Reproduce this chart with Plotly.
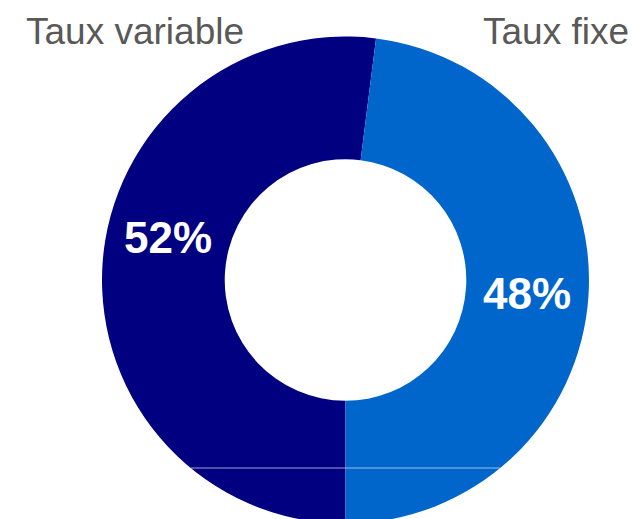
import plotly.graph_objects as go

# Répartition de la dette par type de taux
labels = ["Taux variable", "Taux fixe"]
values = [52, 48]
colors = ["#000080", "#0066CC"]

W, H = 635, 519          # visible page size
FIG_H = 524              # figure is a touch taller: the ring runs off the bottom edge
# Pie placement in pixels (center and radius), measured from the top-left
cx, cy, r = 345.5, 280.0, 243.5

fig = go.Figure(
    go.Pie(
        labels=labels,
        values=values,
        sort=False,
        direction="clockwise",
        rotation=180,
        hole=0.496,
        marker=dict(colors=colors, line=dict(width=0)),
        textinfo="none",
        hoverinfo="label+percent",
        domain=dict(
            x=[(cx - r) / W, (cx + r) / W],
            y=[max(0.0, (FIG_H - cy - r) / FIG_H), (FIG_H - cy + r) / FIG_H],
        ),
        showlegend=False,
    )
)

total = sum(values)
pct = [f"{round(100 * v / total)}%" for v in values]

FONT = "Liberation Sans, Arial, sans-serif"

# Percentage labels inside the ring
label_pos = [(168, 238), (527, 293)]
for t, (px, py) in zip(pct, label_pos):
    fig.add_annotation(
        x=px / W, y=1 - py / FIG_H, xref="paper", yref="paper",
        text=f"<b>{t}</b>", showarrow=False,
        font=dict(family=FONT, size=44, color="white"),
        xanchor="center", yanchor="middle",
    )

# Category names at the top corners
fig.add_annotation(
    x=24 / W, y=1 - 31 / FIG_H, xref="paper", yref="paper",
    text=labels[0], showarrow=False, xanchor="left", yanchor="middle",
    font=dict(family=FONT, size=37, color="#595959"),
)
fig.add_annotation(
    x=631 / W, y=1 - 31 / FIG_H, xref="paper", yref="paper",
    text=labels[1], showarrow=False, xanchor="right", yanchor="middle",
    font=dict(family=FONT, size=37, color="#595959"),
)

# Thin light seam across the lower part of the ring
ys = 468.0
half = (r ** 2 - (ys - cy) ** 2) ** 0.5
fig.add_shape(
    type="line", xref="paper", yref="paper",
    x0=(cx - half) / W, x1=(cx + half) / W, y0=1 - ys / FIG_H, y1=1 - ys / FIG_H,
    line=dict(color="rgba(215,215,225,0.75)", width=1),
)

fig.update_layout(
    width=W, height=FIG_H,
    margin=dict(l=0, r=0, t=0, b=0),
    paper_bgcolor="white", plot_bgcolor="white",
)

# Keep the page from scrolling so the overflow is simply cut off
fig.write_html(
    "out.html",
    post_script=(
        "document.documentElement.style.overflow='hidden';"
        "document.body.style.overflow='hidden';"
        "document.body.style.margin='0';"
    ),
)
